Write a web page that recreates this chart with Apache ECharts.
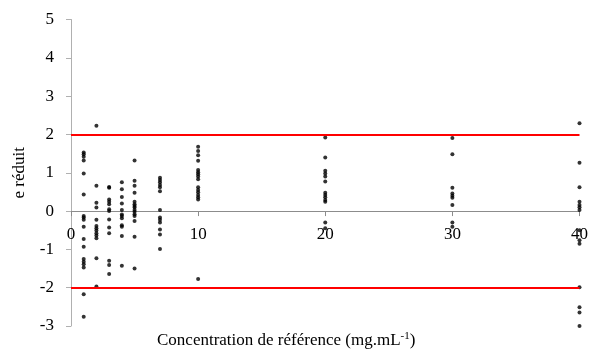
<!DOCTYPE html>
<html>
<head>
<meta charset="utf-8">
<script src="https://cdn.jsdelivr.net/npm/echarts@6/dist/echarts.min.js"></script>
<style>html,body{margin:0;padding:0;background:#fff}#c{width:591px;height:353px}</style>
</head>
<body>
<div id="c"></div>
<script>
// Reference concentrations (x) and reduced errors (y) per concentration
var concentrations = [1, 2, 3, 4, 5, 7, 10, 20, 30, 40];
var errors1 = [1.53, 1.48, 1.42, 1.32, 0.98, 0.43, -0.13, -0.17, -0.23, -0.41, -0.73, -0.93, -1.25, -1.32, -1.39, -1.47, -2.17, -2.76];
var errors2 = [2.23, 0.66, 0.22, 0.09, -0.23, -0.39, -0.45, -0.51, -0.58, -0.64, -0.71, -1.23, -1.97];
var errors3 = [0.63, 0.61, 0.30, 0.24, 0.18, 0.05, 0.0, -0.22, -0.43, -0.58, -1.30, -1.41, -1.64];
var errors4 = [0.75, 0.57, 0.37, 0.20, 0.03, -0.09, -0.13, -0.19, -0.37, -0.41, -0.65, -1.43];
var errors5 = [1.32, 0.79, 0.66, 0.48, 0.24, 0.18, 0.13, 0.09, 0.03, -0.02, -0.08, -0.13, -0.26, -0.67, -1.50];
var errors7 = [0.87, 0.81, 0.75, 0.68, 0.62, 0.52, 0.03, -0.17, -0.23, -0.30, -0.48, -0.61, -0.99];
var errors10 = [1.68, 1.57, 1.46, 1.31, 1.07, 1.01, 0.96, 0.90, 0.83, 0.62, 0.55, 0.49, 0.42, 0.36, 0.30, -1.77];
var errors20 = [1.92, 1.40, 1.05, 0.98, 0.90, 0.77, 0.48, 0.42, 0.36, 0.29, 0.24, -0.30, -0.45];
var errors30 = [1.91, 1.48, 0.61, 0.46, 0.40, 0.35, 0.16, -0.30, -0.41];
var errors40 = [2.29, 1.26, 0.62, 0.24, 0.16, 0.10, 0.03, -0.50, -0.76, -0.85, -1.99, -2.51, -2.65, -3.0];
var limits = [2, -2];
var yTicks = [-3, -2, -1, 0, 1, 2, 3, 4, 5];
var xTicks = [0, 10, 20, 30, 40];

var groups = [errors1, errors2, errors3, errors4, errors5, errors7, errors10, errors20, errors30, errors40];
var points = [];
groups.forEach(function (g, i) {
  g.forEach(function (v) { points.push([concentrations[i], v]); });
});

var font = 'Liberation Serif';
var gridTop = 19.5, gridBottom = 27, H = 353;
var plotH = H - gridTop - gridBottom;
var yMin = yTicks[0], yMax = yTicks[yTicks.length - 1];
// place the x axis on the y = 0 line
var zeroOffset = -plotH * (0 - yMin) / (yMax - yMin);

var chart = echarts.init(document.getElementById('c'));
chart.setOption({
  animation: false,
  backgroundColor: '#fff',
  textStyle: { fontFamily: font },
  title: {
    text: '{a|Concentration de référence (mg.mL}{s|-1}{a|)}',
    left: 152, top: 326,
    textStyle: {
      fontFamily: font, fontWeight: 'normal', color: '#000',
      rich: {
        a: { fontFamily: font, fontSize: 17, color: '#000', lineHeight: 20 },
        s: { fontFamily: font, fontSize: 11, color: '#000', verticalAlign: 'top', lineHeight: 20, padding: [0, 0, 8, 0] }
      }
    }
  },
  grid: { left: 71, top: gridTop, right: 11, bottom: gridBottom, containLabel: false },
  xAxis: {
    type: 'value', min: xTicks[0], max: xTicks[xTicks.length - 1], interval: 10,
    offset: zeroOffset,
    axisLine: { onZero: false, lineStyle: { color: '#8c8c8c', width: 1 } },
    axisTick: { show: true, length: 5, lineStyle: { color: '#8c8c8c' } },
    axisLabel: { fontFamily: font, fontSize: 17, color: '#000', margin: 15 },
    splitLine: { show: false }
  },
  yAxis: {
    type: 'value', min: yMin, max: yMax, interval: 1,
    name: 'e réduit', nameLocation: 'middle', nameGap: 43, nameRotate: 90,
    nameTextStyle: { fontFamily: font, fontSize: 17, color: '#000' },
    axisLine: { show: true, onZero: false, lineStyle: { color: '#b0b0b0', width: 1 } },
    axisTick: { show: true, length: 5, lineStyle: { color: '#b0b0b0' } },
    axisLabel: { fontFamily: font, fontSize: 17, color: '#000', margin: 17 },
    splitLine: { show: false }
  },
  series: [{
    type: 'scatter',
    data: points,
    symbolSize: 4,
    itemStyle: { color: '#000' },
    markLine: {
      silent: true,
      symbol: ['none', 'none'],
      label: { show: false },
      lineStyle: { color: '#ff0000', width: 2, type: 'solid' },
      data: limits.map(function (v) { return { yAxis: v }; })
    }
  }]
});
</script>
</body>
</html>
